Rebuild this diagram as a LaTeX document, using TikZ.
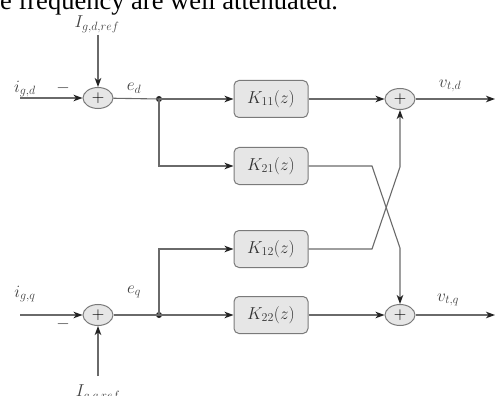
\documentclass[tikz,border=0pt]{standalone}
\usepackage{fontspec}
\newfontfamily\topfont{Liberation Serif}
\usetikzlibrary{arrows.meta,shapes.geometric}
\definecolor{linegray}{HTML}{6A6A6A}
\definecolor{boxfill}{HTML}{E6E6E6}
\definecolor{boxdraw}{HTML}{7A7A7A}
\definecolor{tipcol}{HTML}{222222}
\tikzset{
  wire/.style={draw=linegray, line width=1.1pt},
  arr/.style={wire, -{Stealth[length=9pt,width=6.5pt,inset=2.5pt,color=tipcol]}},
  sumnode/.style={ellipse, draw=boxdraw, fill=boxfill, line width=1pt, minimum width=30pt, minimum height=21pt, inner sep=0pt, font=\fontsize{19}{19}\selectfont},
  blk/.style={rectangle, rounded corners=5pt, draw=boxdraw, fill=boxfill, line width=1pt, minimum width=74pt, minimum height=37pt, inner sep=0pt, font=\fontsize{18}{20}\selectfont, text=black!80},
  lbl/.style={inner sep=0pt, font=\fontsize{18}{20}\selectfont, text=black!75},
  dotnode/.style={circle, fill=tipcol, minimum size=6pt, inner sep=0pt}
}
\begin{document}
\begin{tikzpicture}[x=1pt,y=-1pt]
\useasboundingbox (0,0) rectangle (496,396);
\clip (0,0) rectangle (496,396);
\fill[white] (0,0) rectangle (496,396);
% top cropped caption line
\node[anchor=base west, inner sep=0pt, font=\topfont\fontsize{26.5}{30}\selectfont] (cap) at (0,10) {e frequency are well attenuated.};

% summing junctions
\node[sumnode] (sd) at (98,98) {$+$};
\node[sumnode] (sq) at (98,315) {$+$};
\node[sumnode] (od) at (400,99) {$+$};
\node[sumnode] (oq) at (400,315) {$+$};

% branch points
\node[dotnode] (jd) at (159,99) {};
\node[dotnode] (jq) at (159,315) {};

% blocks
\node[blk] (k11) at (271,99) {$K_{11}(z)$};
\node[blk] (k21) at (271,166) {$K_{21}(z)$};
\node[blk] (k12) at (271,249) {$K_{12}(z)$};
\node[blk] (k22) at (271,315) {$K_{22}(z)$};

% free ends
\coordinate (ind) at (20,98);
\coordinate (refd) at (98,35);
\coordinate (outd) at (495,99);
\coordinate (inq) at (20,315);
\coordinate (refq) at (98,376);
\coordinate (outq) at (495,315);
\coordinate (a1) at (372,166);
\coordinate (a2) at (400,248);
\coordinate (b1) at (372,249);
\coordinate (b2) at (400,167);

% labels
\node[lbl] (lIgd) at (97,24) {$I_{g,d,ref}$};
\node[lbl] (ligd) at (25,89) {$i_{g,d}$};
\node[lbl] (mind) at (63,88) {$-$};
\node[lbl] (led) at (134,88) {$e_d$};
\node[lbl] (lvtd) at (450,86) {$v_{t,d}$};
\node[lbl] (ligq) at (25,294) {$i_{g,q}$};
\node[lbl] (minq) at (63,324) {$-$};
\node[lbl] (leq) at (134,292) {$e_q$};
\node[lbl] (lvtq) at (448,300) {$v_{t,q}$};
\node[lbl] (lIgq) at (98,393) {$I_{g,q,ref}$};

% d channel
\draw[arr] (ind) -- (sd);
\draw[arr] (refd) -- (sd);
\draw[wire] (sd) -- (jd.center);
\draw[arr] (jd.center) -- (k11);
\draw[arr] (jd.center) |- (k21);
\draw[arr] (k11) -- (od);
\draw[arr] (od) -- (outd);

% q channel
\draw[arr] (inq) -- (sq);
\draw[arr] (refq) -- (sq);
\draw[wire] (sq) -- (jq.center);
\draw[arr] (jq.center) -- (k22);
\draw[arr] (jq.center) |- (k12);
\draw[arr] (k22) -- (oq);
\draw[arr] (oq) -- (outq);

% cross couplings
\draw[arr] (k21.east) -- (a1) -- (a2) -- (oq);
\draw[arr] (k12.east) -- (b1) -- (b2) -- (od);
\end{tikzpicture}
\end{document}
